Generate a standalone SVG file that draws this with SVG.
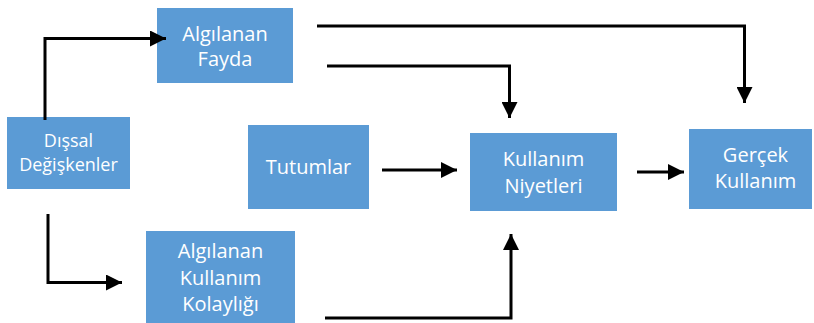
<svg xmlns="http://www.w3.org/2000/svg" width="814" height="323" viewBox="0 0 814 323">
<style>
.box{fill:#5B9BD5;}
.t{font-family:"Open Sans","Liberation Sans",sans-serif;font-size:20px;fill:#FFFFFF;text-anchor:middle;}
.s{font-size:18px;}
.c{fill:none;stroke:#000;stroke-width:3;}
</style>
<defs>
<marker id="ah" markerUnits="userSpaceOnUse" markerWidth="16" markerHeight="16" refX="16" refY="8" orient="auto" viewBox="0 0 16 16">
<path d="M0,0 L16,8 L0,16 Z" fill="#000"/>
</marker>
</defs>
<rect width="814" height="323" fill="#fff"/>
<g id="fayda"><rect class="box" x="157" y="8" width="136" height="75"/><text class="t" x="225" y="41">Algılanan</text><text class="t" x="225" y="66">Fayda</text></g>
<g id="dissal"><rect class="box" x="7" y="117" width="123" height="72"/><text class="t s" x="68.5" y="147">Dışsal</text><text class="t s" x="68.5" y="171">Değişkenler</text></g>
<g id="tutumlar"><rect class="box" x="248" y="125" width="121" height="84"/><text class="t" x="308.5" y="174">Tutumlar</text></g>
<g id="kolaylik"><rect class="box" x="146" y="231" width="149" height="92"/><text class="t" x="220.5" y="258">Algılanan</text><text class="t" x="220.5" y="285">Kullanım</text><text class="t" x="220.5" y="311">Kolaylığı</text></g>
<g id="niyet"><rect class="box" x="470" y="133" width="147" height="78"/><text class="t" x="543.5" y="166">Kullanım</text><text class="t" x="543.5" y="193">Niyetleri</text></g>
<g id="gercek"><rect class="box" x="689" y="129" width="123" height="80"/><text class="t" x="755.5" y="162">Gerçek</text><text class="t" x="755.5" y="188">Kullanım</text></g>
<g id="connectors">
<path class="c" d="M45,120 V38.5 H166" marker-end="url(#ah)"/>
<path class="c" d="M317,26 H744.5 V103" marker-end="url(#ah)"/>
<path class="c" d="M327,66 H509.5 V118" marker-end="url(#ah)"/>
<path class="c" d="M382,170 H457" marker-end="url(#ah)"/>
<path class="c" d="M637,172 H684" marker-end="url(#ah)"/>
<path class="c" d="M48,214 V282.5 H122" marker-end="url(#ah)"/>
<path class="c" d="M325,318 H511 V234" marker-end="url(#ah)"/>
</g>
</svg>
